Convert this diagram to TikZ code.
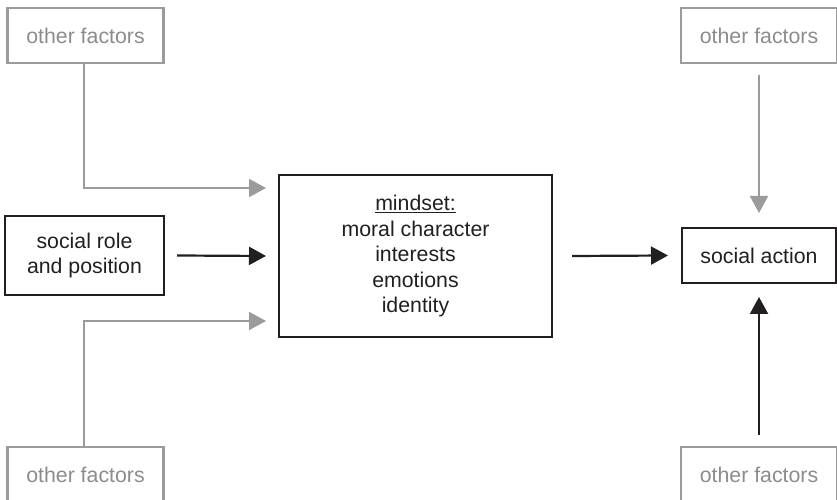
\documentclass[tikz,border=0pt]{standalone}
\usepackage{fontspec}
\setmainfont{Liberation Sans}
\usetikzlibrary{arrows.meta}
\definecolor{inkblack}{RGB}{35,31,32}
\definecolor{factorgray}{RGB}{155,155,155}
\definecolor{factortext}{RGB}{140,140,140}
\tikzset{
  txt/.style={font=\fontsize{21.3}{25.5}\selectfont, align=center, inner sep=0pt, outer sep=0pt},
  mainbox/.style={txt, draw=inkblack, text=inkblack, line width=2.7pt},
  rolebox/.style={txt, draw=inkblack, text=inkblack, line width=1.3pt},
  factorbox/.style={txt, draw=factorgray, text=factortext, line width=2.2pt,
    minimum width=156pt, minimum height=55pt},
  blackarrow/.style={draw=inkblack, line width=2.2pt, -{Triangle[length=17pt,width=18pt]}},
  grayarrow/.style={draw=factorgray, line width=2pt, -{Triangle[length=17pt,width=18pt]}},
}
\begin{document}
\begin{tikzpicture}[x=1pt,y=1pt]
  \useasboundingbox (0,0) rectangle (837,500);

  % boxes
  \node[factorbox] (oftl) at (85.5,464.5) {other factors};
  \node[factorbox] (oftr) at (759,464.5) {other factors};
  \node[factorbox] (ofbl) at (85.5,25.5) {other factors};
  \node[factorbox] (ofbr) at (759,25.5) {other factors};

  \node[rolebox, minimum width=159pt, minimum height=79pt] (role) at (84.5,244.5)
    {social role\\and position};
  \node[mainbox, minimum width=273pt, minimum height=162pt] (mind) at (415.5,244)
    {\underline{mindset:}\\moral character\\interests\\emotions\\identity};
  \node[mainbox, minimum width=154pt, minimum height=55pt] (action) at (759,244.5)
    {social action};

  % free ends of the side inputs to the mindset box
  \coordinate (intop) at ([xshift=-13pt]mind.west |- 0,312);
  \coordinate (inbot) at ([xshift=-13pt]mind.west |- 0,179);

  % connectors
  \draw[grayarrow] ([xshift=-2pt]oftl.south) |- (intop);
  \draw[grayarrow] ([xshift=-2pt]ofbl.north) |- (inbot);
  \draw[blackarrow] ([xshift=13pt]role.east) -- ([xshift=-13pt]mind.west);
  \draw[blackarrow] ([xshift=20pt]mind.east) -- ([xshift=-14pt]action.west);
  \draw[grayarrow] ([yshift=-12pt]oftr.south) -- ([yshift=15pt]action.north);
  \draw[blackarrow] ([yshift=12pt]ofbr.north) -- ([yshift=-14pt]action.south);
\end{tikzpicture}
\end{document}
